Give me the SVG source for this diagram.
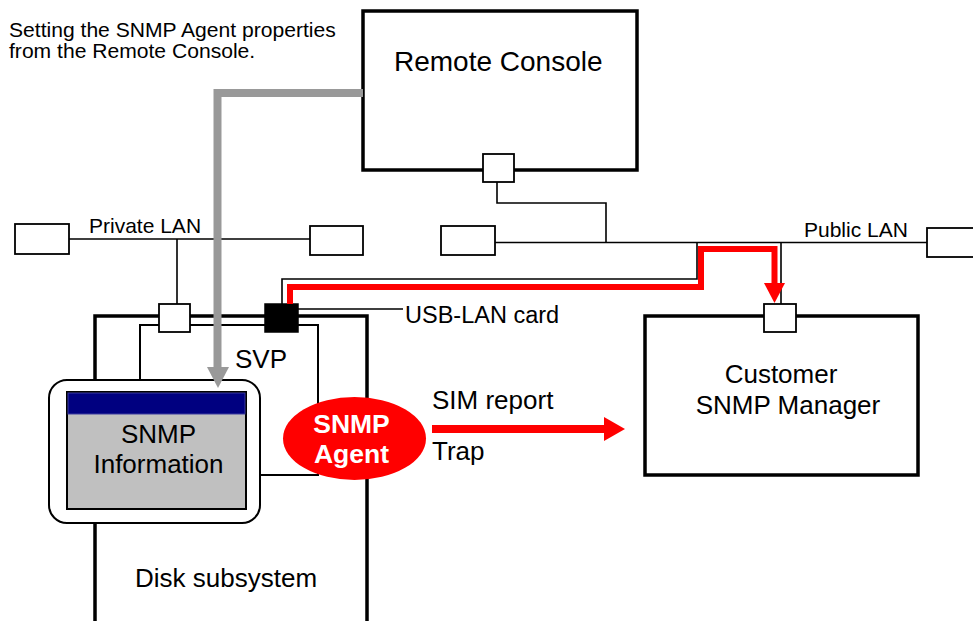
<svg xmlns="http://www.w3.org/2000/svg" width="973" height="621" viewBox="0 0 973 621">
<style>
text{font-family:"Liberation Sans",Arial,sans-serif;fill:#000}
.thick{fill:#fff;stroke:#000;stroke-width:3.5}
.sq{fill:#fff;stroke:#000;stroke-width:1.8}
.wire{fill:none;stroke:#000;stroke-width:1.6}
.t26{font-size:26px}
.t21{font-size:21px}
</style>
<rect width="973" height="621" fill="#fff"/>
<g id="note"><text x="9" y="37" font-size="21.1">Setting the SNMP Agent properties</text><text x="9" y="58" font-size="21.1">from the Remote Console.</text></g>
<g id="connectors">
<path class="wire" d="M69 239H310M177 239V304"/>
<path class="wire" d="M495 242.5H927M497 182V203H606V242.5"/>
<path class="wire" d="M282 304V279H697V242.5M781 304V242.5M298 309H403"/>
</g>
<g id="remote-console"><rect class="thick" x="363" y="11" width="274" height="159"/><text x="394" y="71" font-size="28">Remote Console</text><rect class="sq" x="483" y="154" width="31" height="28"/></g>
<g id="private-lan"><rect class="sq" x="15" y="224" width="54" height="30"/><rect class="sq" x="310" y="226" width="53" height="29"/><text class="t21" x="89" y="233">Private LAN</text></g>
<g id="public-lan"><rect class="sq" x="441" y="226" width="54" height="29"/><rect class="sq" x="927" y="228" width="50" height="29"/><text class="t21" x="804" y="237">Public LAN</text></g>
<g id="disk-subsystem"><path d="M95 625V316H367V625" fill="#fff" stroke="#000" stroke-width="3.5"/><text class="t26" x="135" y="587">Disk subsystem</text></g>
<g id="svp"><rect x="140" y="325" width="178" height="150" fill="#fff" stroke="#000" stroke-width="2"/><text class="t26" x="235" y="368">SVP</text><rect class="sq" x="159" y="304" width="31" height="28"/></g>
<g id="usb-lan-card"><rect x="265" y="304" width="33" height="28" fill="#000" stroke="#000" stroke-width="1.5"/><text x="405" y="323" font-size="23.5">USB-LAN card</text></g>
<g id="snmp-information"><rect x="49" y="380" width="211" height="143" rx="18" fill="#fff" stroke="#000" stroke-width="2"/><rect x="67" y="392" width="179" height="117" fill="#c0c0c0" stroke="#000" stroke-width="2"/><rect x="68" y="393" width="177" height="21" fill="#000080" stroke="#3a3aa0" stroke-width="1"/><text class="t26" x="158.5" y="443" text-anchor="middle">SNMP</text><text class="t26" x="158.5" y="473" text-anchor="middle">Information</text></g>
<g id="customer-snmp-manager"><rect class="thick" x="645" y="316" width="273" height="159"/><text class="t26" x="781" y="383" text-anchor="middle">Customer</text><text class="t26" x="788" y="414" text-anchor="middle">SNMP Manager</text><rect class="sq" x="764" y="304" width="32" height="28"/></g>
<g id="snmp-agent"><ellipse cx="354.5" cy="438.5" rx="71.5" ry="41.5" fill="#f00"/><text x="351.5" y="433" font-size="26.5" font-weight="bold" text-anchor="middle" style="fill:#fff">SNMP</text><text x="351.5" y="463" font-size="26.5" font-weight="bold" text-anchor="middle" style="fill:#fff">Agent</text></g>
<g id="flows">
<path d="M290 304V287H701V249H774.5V285" fill="none" stroke="#f00" stroke-width="6"/>
<polygon points="764,283 785,283 774.5,303" fill="#f00"/>
<path d="M432 429H605" stroke="#f00" stroke-width="8"/>
<polygon points="604,417 625,429 604,441" fill="#f00"/>
<path d="M363 93H217.5V368" fill="none" stroke="#999" stroke-width="8"/>
<polygon points="207,367 229,367 218,388" fill="#999"/>
<text class="t26" x="432" y="409">SIM report</text>
<text class="t26" x="432" y="460">Trap</text>
</g>
</svg>
